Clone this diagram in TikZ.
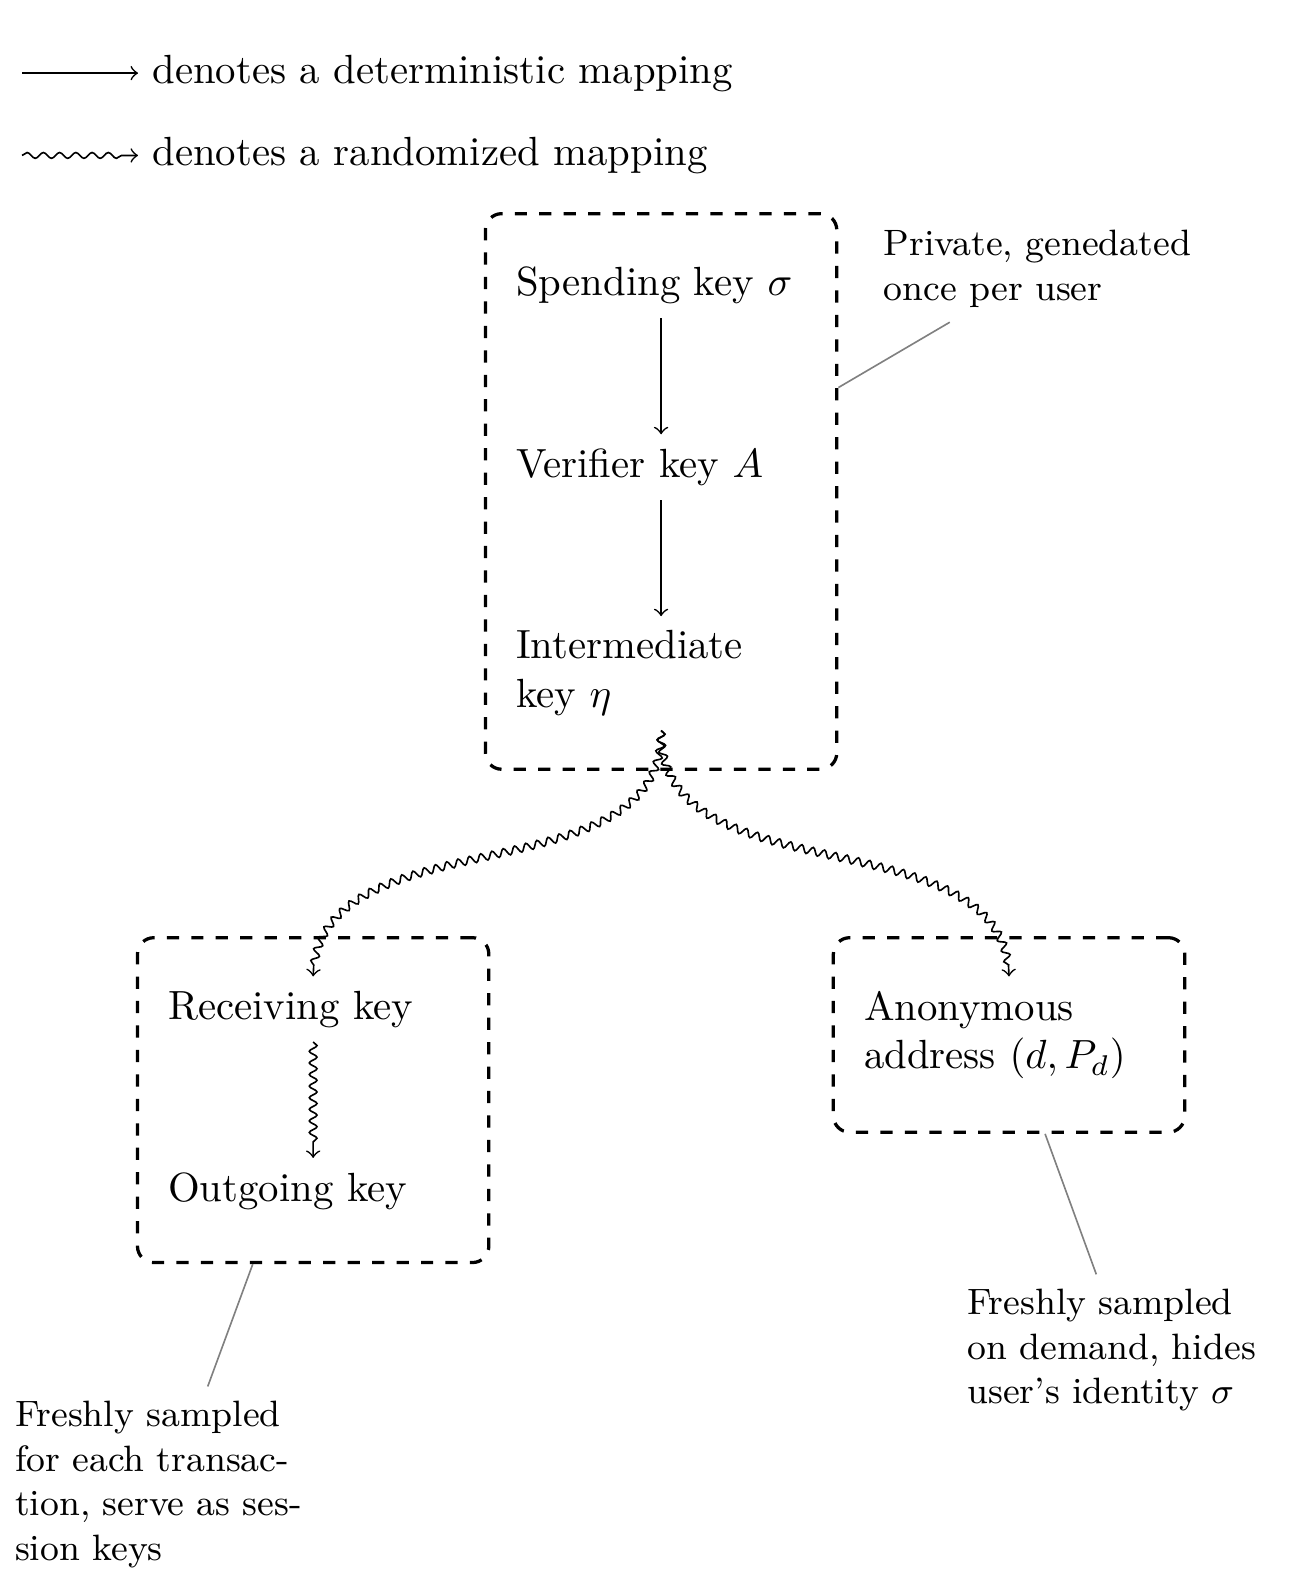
\documentclass[tikz,border=0pt]{standalone}
\usepackage{amsfonts, amsmath, amssymb}
\usepackage{tikz}
\usetikzlibrary{positioning, fit, calc, decorations.pathmorphing}

\tikzset{
  keynode/.style = {text width = 2.5cm, align = left},
  keybox/.style = {draw, thick, dashed, rounded corners, inner xsep = 4pt, inner ysep = 9.5pt},
  note/.style = {text width = 2.7cm, align = left, font = \small},
  noteline/.style = {gray, thin},
  rand/.style = {->, decorate, decoration = {snake, amplitude = 0.33mm, segment length = 1mm, post length = 1mm}}
}

\begin{document}
\begin{tikzpicture}
\useasboundingbox (0,0) rectangle (11.2,-13.64);

\coordinate (detstart) at (0.19,-0.63);
\coordinate (randstart) at (0.19,-1.34);
\node[anchor = west] (detlabel) at (1.19,-0.63) {denotes a deterministic mapping};
\node[anchor = west] (randlabel) at (1.19,-1.34) {denotes a randomized mapping};
\draw[->] (detstart) -- (detlabel);
\draw[->, decorate, decoration = {snake, amplitude = 0.25mm, segment length = 1.4mm, post length = 1mm}] (randstart) -- (randlabel);

\node[keynode] (spend) at (5.70,-2.46) {Spending key $\sigma$};
\node[keynode, below = 1cm of spend] (verif) {Verifier key $A$};
\node[keynode, below = 1cm of verif] (inter) {Intermediate key $\eta$};
\node[keynode, anchor = north] (recv) at ($(inter.south)+(-3,-2.12)$) {Receiving key};
\node[keynode, below = 1cm of recv] (outg) {Outgoing key};
\node[keynode, anchor = north] (anon) at ($(inter.south)+(3,-2.12)$) {Anonymous address $(d, P_d)$};

\node[keybox, fit = (spend)(inter)] (privbox) {};
\node[keybox, fit = (recv)(outg)] (sessbox) {};
\node[keybox, fit = (anon)] (addrbox) {};

\draw[->] (spend) -- (verif);
\draw[->] (verif) -- (inter);
\draw[rand] (recv) -- (outg);
\draw[rand] (inter.south) to[out = -90, in = 90] (recv.north);
\draw[rand] (inter.south) to[out = -90, in = 90] (anon.north);

\node[note] (privnote) at (8.97,-2.32) {Private, genedated once per user};
\node[note] (sessnote) at (1.48,-12.80) {Freshly sampled for each transaction, serve as session keys};
\node[note] (addrnote) at (9.69,-11.64) {Freshly sampled on demand, hides user's identity $\sigma$};
\draw[noteline] (privbox) -- (privnote);
\draw[noteline] (sessbox) -- (sessnote);
\draw[noteline] (addrbox) -- (addrnote);
\end{tikzpicture}
\end{document}
